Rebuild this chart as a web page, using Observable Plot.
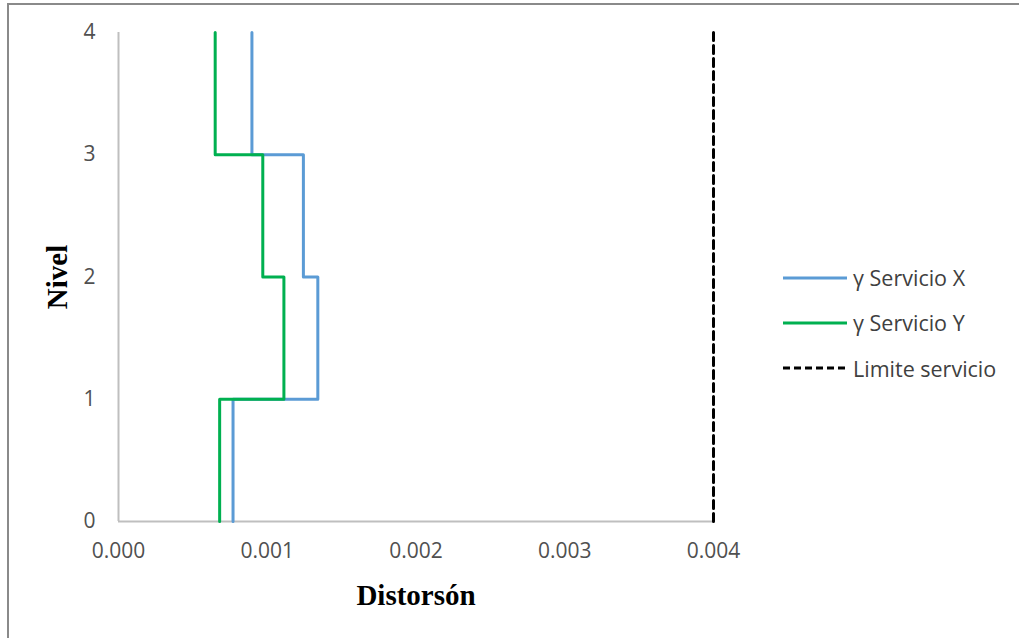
<!DOCTYPE html>
<html>
<head>
<meta charset="utf-8">
<script src="https://cdn.jsdelivr.net/npm/d3@7"></script>
<script src="https://cdn.jsdelivr.net/npm/@observablehq/plot@0.6"></script>
<style>
  html, body { margin: 0; padding: 0; background: #fff; }
  #wrap { position: relative; width: 1019px; height: 638px; overflow: hidden; }
  #frame { position: absolute; left: 7px; top: 3px; width: 1100px; height: 700px;
           border-top: 2px solid #8a8a8a; border-left: 2px solid #8a8a8a; box-sizing: border-box; pointer-events: none; }
  #legend { position: absolute; left: 783px; top: 255px; font-family: "Open Sans", sans-serif; font-size: 21.5px; color: #404040; }
  .row { display: flex; align-items: center; height: 45.3px; }
  .row svg { margin-right: 6px; }
</style>
</head>
<body>
<div id="wrap">
  <div id="chart"></div>
  <div id="frame"></div>
  <div id="legend"></div>
</div>
<script>
// Story levels and inter-storey drift per storey (storey i spans level i..i+1)
const levels = [0, 1, 2, 3, 4];
const servicioX = [0.00077, 0.00134, 0.001243, 0.000897];
const servicioY = [0.00068, 0.001112, 0.00097, 0.00065];
const limite = 0.004;
const xTicks = [0, 0.001, 0.002, 0.003, 0.004];
const yTicks = [0, 1, 2, 3, 4];
const seriesNames = ["γ Servicio X", "γ Servicio Y", "Limite servicio"];
const seriesColors = ["#5b9bd5", "#00b050", "#000000"];

// build step vertices: vertical run over each storey, horizontal jump at each level
function steps(vals, name) {
  const pts = [];
  vals.forEach((v, i) => {
    pts.push({x: v, y: levels[i], s: name});
    pts.push({x: v, y: levels[i + 1], s: name});
  });
  return pts;
}
const dataX = steps(servicioX, seriesNames[0]);
const dataY = steps(servicioY, seriesNames[1]);
const dataLim = [{x: limite, y: levels[0]}, {x: limite, y: levels[levels.length - 1]}];

const chart = Plot.plot({
  width: 1019,
  height: 638,
  marginLeft: 118,
  marginRight: 306,
  marginTop: 32,
  marginBottom: 117,
  style: {fontFamily: "'Open Sans', sans-serif", fontSize: "21px", color: "#505050", background: "transparent"},
  x: {domain: [0, 0.004]},
  y: {domain: [0, 4]},
  marks: [
    Plot.ruleY([0], {stroke: "#bfbfbf", strokeWidth: 2}),
    Plot.ruleX([0], {stroke: "#bfbfbf", strokeWidth: 2}),
    Plot.line(dataX, {x: "x", y: "y", stroke: seriesColors[0], strokeWidth: 3}),
    Plot.line(dataY, {x: "x", y: "y", stroke: seriesColors[1], strokeWidth: 3}),
    Plot.line(dataLim, {x: "x", y: "y", stroke: seriesColors[2], strokeWidth: 3, strokeDasharray: "8,5"}),
    Plot.axisX({ticks: xTicks, tickFormat: d3.format(".3f"), tickSize: 0, tickPadding: 22, label: null, fill: "#505050", fontSize: 21}),
    Plot.axisY({ticks: yTicks, tickFormat: d3.format("d"), tickSize: 0, tickPadding: 23, label: null, fill: "#505050", fontSize: 21}),
    Plot.text(["Distorsón"], {frameAnchor: "bottom", textAnchor: "middle", lineAnchor: "middle", dy: 74, fontFamily: "'Liberation Serif', serif", fontWeight: "bold", fontSize: 29, fill: "#000"}),
    Plot.text(["Nivel"], {frameAnchor: "left", textAnchor: "middle", lineAnchor: "middle", dx: -61, rotate: -90, fontFamily: "'Liberation Serif', serif", fontWeight: "bold", fontSize: 29, fill: "#000"})
  ]
});
document.getElementById("chart").appendChild(chart);

const legend = document.getElementById("legend");
seriesNames.forEach((n, i) => {
  const row = document.createElement("div");
  row.className = "row";
  const dash = i === 2 ? 'stroke-dasharray="7,4"' : '';
  row.innerHTML = `<svg width="64" height="6"><line x1="0" y1="3" x2="64" y2="3" stroke="${seriesColors[i]}" stroke-width="3" ${dash}/></svg><span>${n}</span>`;
  legend.appendChild(row);
});
</script>
</body>
</html>
